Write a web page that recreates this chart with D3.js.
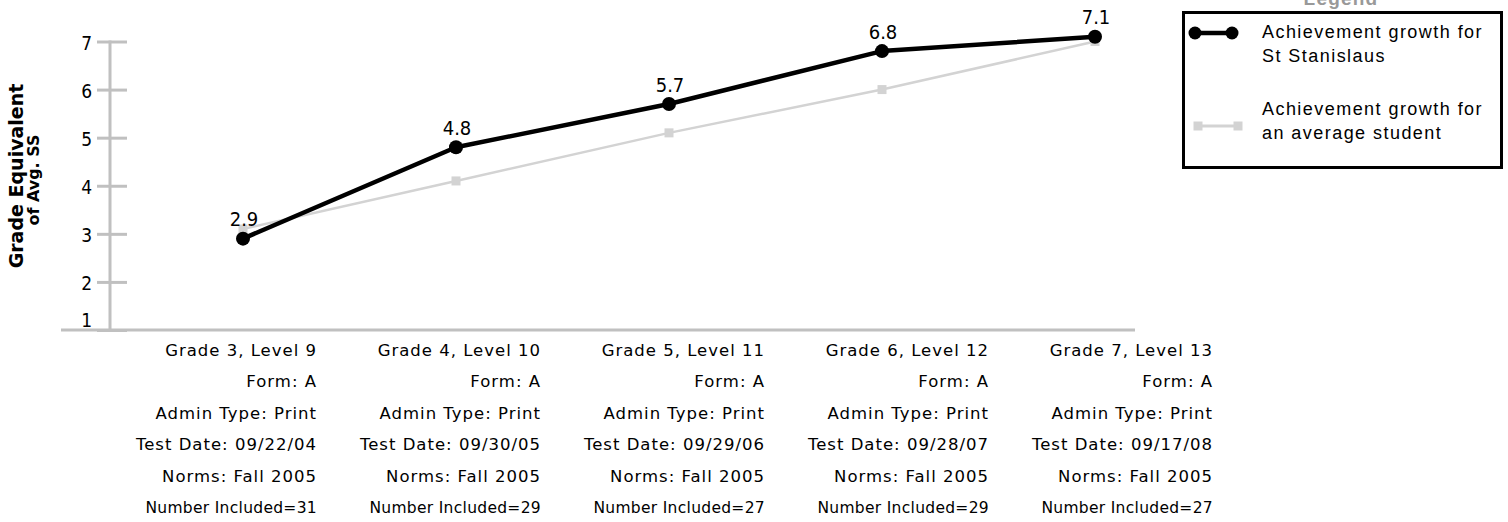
<!DOCTYPE html>
<html>
<head>
<meta charset="utf-8">
<script src="https://cdn.jsdelivr.net/npm/d3@7"></script>
<style>
  html, body { margin: 0; padding: 0; background: #fff; }
  svg { display: block; }
  .lbl { font-family: "DejaVu Sans", Verdana, sans-serif; fill: #000; }
  .num { font-family: "DejaVu Sans Condensed", "DejaVu Sans", sans-serif; font-stretch: condensed; fill: #000; }
  .leg { font-family: "Liberation Sans", Arial, sans-serif; fill: #000; }
</style>
</head>
<body>
<svg id="chart" width="1508" height="522"></svg>
<script>
// ---- data ----
const categories = ["Grade 3, Level 9", "Grade 4, Level 10", "Grade 5, Level 11", "Grade 6, Level 12", "Grade 7, Level 13"];
const forms = ["Form: A", "Form: A", "Form: A", "Form: A", "Form: A"];
const adminTypes = ["Admin Type: Print", "Admin Type: Print", "Admin Type: Print", "Admin Type: Print", "Admin Type: Print"];
const testDates = ["Test Date: 09/22/04", "Test Date: 09/30/05", "Test Date: 09/29/06", "Test Date: 09/28/07", "Test Date: 09/17/08"];
const norms = ["Norms: Fall 2005", "Norms: Fall 2005", "Norms: Fall 2005", "Norms: Fall 2005", "Norms: Fall 2005"];
const numberIncluded = ["Number Included=31", "Number Included=29", "Number Included=27", "Number Included=29", "Number Included=27"];
const schoolValues = [2.9, 4.8, 5.7, 6.8, 7.1];
const averageValues = [3.1, 4.1, 5.1, 6.0, 7.0];
const yTicks = [1, 2, 3, 4, 5, 6, 7];
const seriesNames = ["Achievement growth for|St Stanislaus", "Achievement growth for|an average student"];
const yTitle = "Grade Equivalent";
const ySubTitle = "of Avg. SS";
const legendTitle = "Legend";

// ---- scales ----
const svg = d3.select("#chart");
const x = d3.scaleBand().domain(categories).range([136.5, 1201.5]).padding(0);
const xl = d3.scaleBand().domain(categories).range([93, 1213]).padding(0);
const y = d3.scaleLinear().domain([1, 7]).range([330, 41.5]);
const cx = c => x(c) + x.bandwidth() / 2;

const axisColor = "#c0c0c0";

// ---- axes ----
const yAxis = svg.append("g").attr("transform", "translate(110,0)")
  .call(d3.axisLeft(y).tickValues(yTicks).tickSize(13).tickSizeOuter(0).tickFormat(d3.format("d")).tickPadding(4));
yAxis.select(".domain").remove();
yAxis.selectAll(".tick line").attr("stroke", axisColor).attr("stroke-width", 3).attr("x2", -13).attr("x1", 17);
yAxis.selectAll(".tick text")
  .attr("class", "num").attr("font-size", 19).attr("fill", "#000")
  .attr("dy", d => d === 1 ? "-0.2em" : "0.42em").attr("x", -18);

svg.append("line").attr("x1", 110).attr("x2", 110).attr("y1", y(7) - 1).attr("y2", y(1) + 1)
  .attr("stroke", axisColor).attr("stroke-width", 3);
svg.append("line").attr("x1", 61).attr("x2", 1135).attr("y1", y(1)).attr("y2", y(1))
  .attr("stroke", axisColor).attr("stroke-width", 3);

// ---- y titles ----
svg.append("text").attr("class", "lbl").attr("font-weight", "bold").attr("font-size", 19)
  .attr("text-anchor", "middle").attr("transform", "translate(23,176) rotate(-90)").text(yTitle);
svg.append("text").attr("class", "lbl").attr("font-weight", "bold").attr("font-size", 16)
  .attr("text-anchor", "middle").attr("transform", "translate(38.5,180) rotate(-90)").text(ySubTitle);

// ---- category labels ----
const rows = [categories, forms, adminTypes, testDates, norms, numberIncluded];
const rowY = [356, 387, 419, 450, 482, 513];
rows.forEach((arr, ri) => {
  svg.append("g").selectAll("text").data(arr).join("text")
    .attr("class", "lbl")
    .attr("x", (d, i) => xl(categories[i]) + xl.bandwidth())
    .attr("y", rowY[ri])
    .attr("text-anchor", "end")
    .attr("font-size", ri === 5 ? 15.5 : 16.5)
    .attr("letter-spacing", ri === 5 ? 0.3 : 1.0)
    .text(d => d);
});

// ---- average series ----
const lineGen = d3.line().x(d => cx(d.c)).y(d => y(d.v));
const avgData = categories.map((c, i) => ({ c, v: averageValues[i] }));
const schData = categories.map((c, i) => ({ c, v: schoolValues[i] }));
svg.append("path").datum(avgData).attr("d", lineGen).attr("fill", "none")
  .attr("stroke", "#d3d3d3").attr("stroke-width", 2.5);
svg.append("g").selectAll("rect").data(avgData).join("rect")
  .attr("x", d => cx(d.c) - 4.5).attr("y", d => y(d.v) - 4.5)
  .attr("width", 9).attr("height", 9).attr("fill", "#d3d3d3");

// ---- school series ----
svg.append("path").datum(schData).attr("d", lineGen).attr("fill", "none")
  .attr("stroke", "#000").attr("stroke-width", 4.5).attr("stroke-linejoin", "round");
svg.append("g").selectAll("circle").data(schData).join("circle")
  .attr("cx", d => cx(d.c)).attr("cy", d => y(d.v)).attr("r", 7).attr("fill", "#000");
svg.append("g").selectAll("text").data(schData).join("text")
  .attr("class", "num").attr("font-size", 20)
  .attr("text-anchor", "middle")
  .attr("x", d => cx(d.c) + 1).attr("y", d => y(d.v) - 12.5)
  .text(d => d3.format(".1f")(d.v));

// ---- legend ----
const lg = svg.append("g");
lg.append("text").attr("class", "leg").attr("font-weight", "bold").attr("font-size", 19)
  .style("fill", "#999").attr("letter-spacing", 1.2)
  .attr("text-anchor", "middle").attr("x", 1341).attr("y", 5).text(legendTitle);
lg.append("rect").attr("x", 1183.5).attr("y", 12.5).attr("width", 318).attr("height", 155)
  .attr("fill", "none").attr("stroke", "#000").attr("stroke-width", 3);

// item 1
lg.append("line").attr("x1", 1195).attr("x2", 1232).attr("y1", 33).attr("y2", 33)
  .attr("stroke", "#000").attr("stroke-width", 4.5);
[1195, 1232].forEach(px => lg.append("circle").attr("cx", px).attr("cy", 33).attr("r", 6.5).attr("fill", "#000"));
// item 2
lg.append("line").attr("x1", 1198).attr("x2", 1238).attr("y1", 126).attr("y2", 126)
  .attr("stroke", "#d3d3d3").attr("stroke-width", 3);
[1198, 1238].forEach(px => lg.append("rect").attr("x", px - 4.5).attr("y", 121.5).attr("width", 9).attr("height", 9).attr("fill", "#d3d3d3"));

const legY = [[38, 62], [115, 139]];
seriesNames.forEach((s, i) => {
  s.split("|").forEach((line, j) => {
    lg.append("text").attr("class", "leg").attr("font-size", 18).attr("letter-spacing", 1.45)
      .attr("x", 1262).attr("y", legY[i][j]).text(line);
  });
});
</script>
</body>
</html>
